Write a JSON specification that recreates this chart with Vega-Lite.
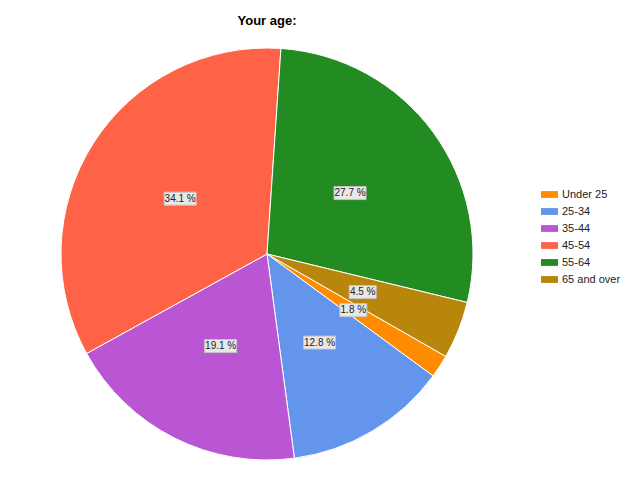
{
  "$schema": "https://vega.github.io/schema/vega-lite/v6.json",
  "autosize": "none",
  "width": 412,
  "height": 412,
  "padding": {"left": 61, "top": 48, "right": 167, "bottom": 20},
  "background": "#ffffff",
  "title": {
    "text": "Your age:",
    "anchor": "middle",
    "font": "Liberation Sans",
    "fontSize": 13,
    "fontWeight": "bold",
    "color": "#000000",
    "baseline": "alphabetic",
    "offset": 8
  },
  "data": {
    "values": [
      {"age": "Under 25", "pct": 1.8, "idx": 1},
      {"age": "25-34", "pct": 12.8, "idx": 2},
      {"age": "35-44", "pct": 19.1, "idx": 3},
      {"age": "45-54", "pct": 34.1, "idx": 4},
      {"age": "55-64", "pct": 27.7, "idx": 5},
      {"age": "65 and over", "pct": 4.5, "idx": 6}
    ]
  },
  "transform": [
    {"window": [{"op": "sum", "field": "pct", "as": "cum"}], "sort": [{"field": "idx"}]},
    {"calculate": "2.0909 + (datum.cum - datum.pct / 2) / 100 * 2 * PI", "as": "mid"},
    {"calculate": "103 * sin(datum.mid)", "as": "lx"},
    {"calculate": "103 * cos(datum.mid)", "as": "ly"},
    {"calculate": "format(datum.pct, '.1f') + ' %'", "as": "label"},
    {"calculate": "datum.pct >= 10 ? 32 : 27", "as": "bw"},
    {"calculate": "datum.lx - datum.bw / 2", "as": "x1"},
    {"calculate": "datum.lx + datum.bw / 2", "as": "x2"},
    {"calculate": "datum.ly - 6.5", "as": "y1"},
    {"calculate": "datum.ly + 6.5", "as": "y2"}
  ],
  "layer": [
    {
      "mark": {"type": "arc", "stroke": "#ffffff", "strokeWidth": 1},
      "encoding": {
        "theta": {
          "field": "pct",
          "type": "quantitative",
          "stack": true,
          "scale": {"range": [2.0909, 8.3741]}
        },
        "order": {"field": "idx", "type": "quantitative"},
        "color": {
          "field": "age",
          "type": "nominal",
          "sort": ["Under 25", "25-34", "35-44", "45-54", "55-64", "65 and over"],
          "scale": {
            "domain": ["Under 25", "25-34", "35-44", "45-54", "55-64", "65 and over"],
            "range": ["#FF8C00", "#6495ED", "#BA55D3", "#FF6347", "#228B22", "#B8860B"]
          },
          "legend": {
            "title": null,
            "orient": "none",
            "legendX": 480,
            "legendY": 138,
            "padding": 0,
            "rowPadding": 3,
            "symbolType": "M-1,-0.4H1V0.4H-1Z",
            "symbolSize": 289,
            "symbolStrokeWidth": 0,
            "labelFont": "Liberation Sans",
            "labelFontSize": 11,
            "labelColor": "#222222",
            "labelOffset": 4
          }
        }
      }
    },
    {
      "mark": {"type": "rect", "fill": "#e8e8e8", "stroke": "#c4c4c4", "strokeWidth": 1},
      "encoding": {
        "x": {"field": "x1", "type": "quantitative", "scale": {"domain": [-206, 206], "nice": false, "zero": false}, "axis": null},
        "x2": {"field": "x2"},
        "y": {"field": "y1", "type": "quantitative", "scale": {"domain": [-206, 206], "nice": false, "zero": false}, "axis": null},
        "y2": {"field": "y2"}
      }
    },
    {
      "mark": {"type": "text", "align": "center", "baseline": "middle", "font": "Liberation Sans", "fontSize": 10, "color": "#222222"},
      "encoding": {
        "x": {"field": "lx", "type": "quantitative"},
        "y": {"field": "ly", "type": "quantitative"},
        "text": {"field": "label", "type": "nominal"}
      }
    }
  ],
  "config": {
    "view": {"stroke": null}
  }
}
